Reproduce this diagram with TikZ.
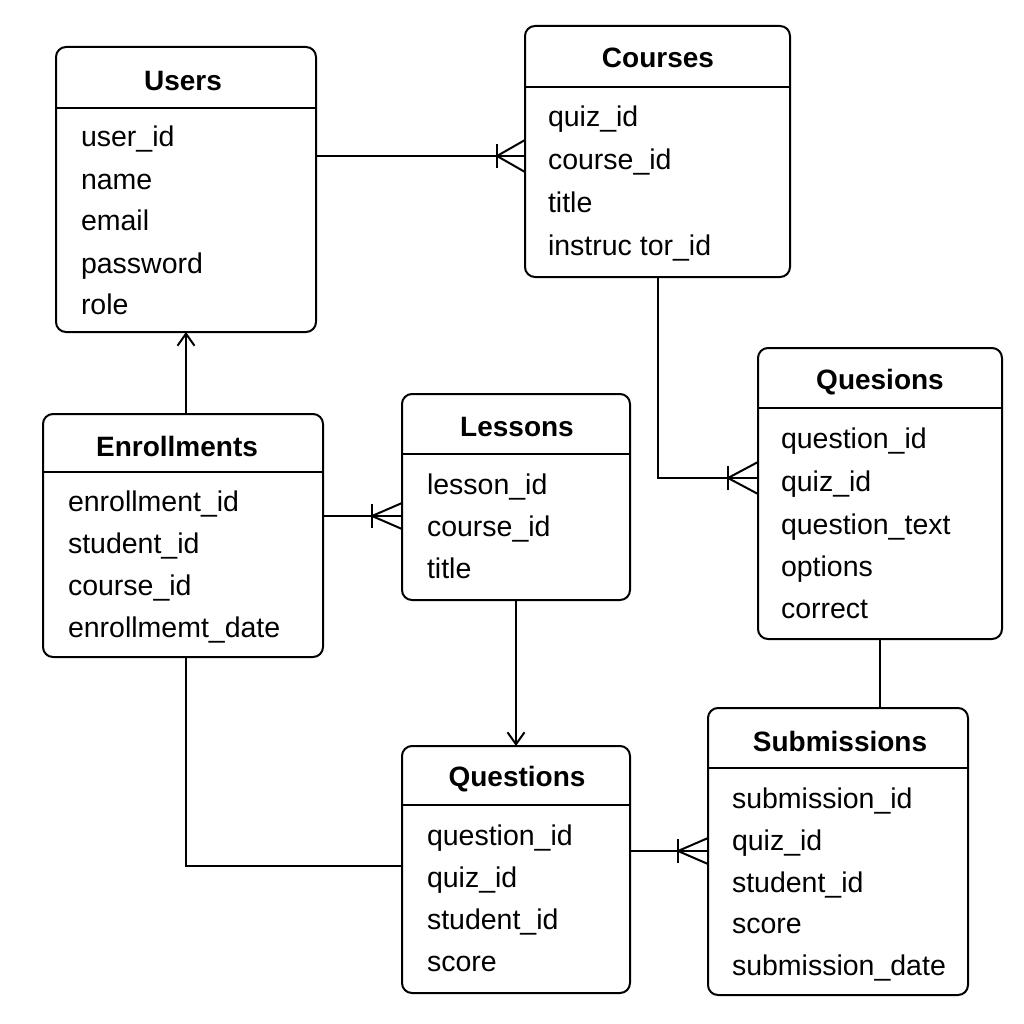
\documentclass[tikz,border=0pt]{standalone}
\usepackage{fontspec}
\setmainfont{Liberation Sans}
\usetikzlibrary{arrows.meta}
\begin{document}
\begin{tikzpicture}[x=1pt,y=-1pt, line width=2pt,
 ent/.style={draw, rounded corners=10pt, anchor=north west, inner sep=0pt, outer sep=0pt},
 ttl/.style={font=\fontsize{28}{30}\selectfont\bfseries, inner sep=0pt},
 fld/.style={font=\fontsize{28.5}{30}\selectfont, anchor=west, inner sep=0pt, text height=20pt, text depth=6pt, yshift=-3pt},
 arr/.style={-{Straight Barb[length=12pt,width=17pt,line width=2pt]}}
 ]
\useasboundingbox (0,0) rectangle (1024,1024);

% Users
\node[ent, minimum width=260pt, minimum height=285pt] (users) at (56,47) {};
\draw (users.west |- 0,108) -- (users.east |- 0,108);
\node[ttl] (usersT) at (183,81) {Users};
\node[fld] (u1) at (80,137) {user\_id};
\node[fld] (u2) at (80,180) {name};
\node[fld] (u3) at (80,221) {email};
\node[fld] (u4) at (80,263) {password};
\node[fld] (u5) at (80,304) {role};

% Courses
\node[ent, minimum width=265pt, minimum height=251pt] (courses) at (525,26) {};
\draw (courses.west |- 0,87) -- (courses.east |- 0,87);
\node[ttl] (coursesT) at (658,58) {Courses};
\node[fld] (c1) at (547,117) {quiz\_id};
\node[fld] (c2) at (547,160) {course\_id};
\node[fld] (c3) at (547,203) {title};
\node[fld] (c4) at (547,245) {instruc tor\_id};

% Quesions
\node[ent, minimum width=244pt, minimum height=291pt] (quesions) at (758,348) {};
\draw (quesions.west |- 0,408) -- (quesions.east |- 0,408);
\node[ttl] (quesionsT) at (880,382) {Quesions};
\node[fld] (q1) at (780,438) {question\_id};
\node[fld] (q2) at (780,481) {quiz\_id};
\node[fld] (q3) at (780,524) {question\_text};
\node[fld] (q4) at (780,566) {options};
\node[fld] (q5) at (780,608) {correct};

% Enrollments
\node[ent, minimum width=280pt, minimum height=243pt] (enroll) at (43,414) {};
\draw (enroll.west |- 0,472) -- (enroll.east |- 0,472);
\node[ttl] (enrollT) at (177,446) {Enrollments};
\node[fld] (e1) at (67,501) {enrollment\_id};
\node[fld] (e2) at (67,543) {student\_id};
\node[fld] (e3) at (67,585) {course\_id};
\node[fld] (e4) at (67,627) {enrollmemt\_date};

% Lessons
\node[ent, minimum width=228pt, minimum height=206pt] (lessons) at (402,394) {};
\draw (lessons.west |- 0,454) -- (lessons.east |- 0,454);
\node[ttl] (lessonsT) at (517,427) {Lessons};
\node[fld] (l1) at (426,484) {lesson\_id};
\node[fld] (l2) at (426,526) {course\_id};
\node[fld] (l3) at (426,568) {title};

% Questions
\node[ent, minimum width=228pt, minimum height=247pt] (questions) at (402,746) {};
\draw (questions.west |- 0,805) -- (questions.east |- 0,805);
\node[ttl] (questionsT) at (517,779) {Questions};
\node[fld] (s1) at (426,835) {question\_id};
\node[fld] (s2) at (426,877) {quiz\_id};
\node[fld] (s3) at (426,919) {student\_id};
\node[fld] (s4) at (426,961) {score};

% Submissions
\node[ent, minimum width=260pt, minimum height=287pt] (subm) at (708,708) {};
\draw (subm.west |- 0,768) -- (subm.east |- 0,768);
\node[ttl] (submT) at (840,741) {Submissions};
\node[fld] (b1) at (731,798) {submission\_id};
\node[fld] (b2) at (731,840) {quiz\_id};
\node[fld] (b3) at (731,882) {student\_id};
\node[fld] (b4) at (731,923) {score};
\node[fld] (b5) at (731,965) {submission\_date};

% connectors
\coordinate (k1) at (courses.west |- 0,156);
\draw (users.east |- 0,156) -- (k1);
\draw (k1) ++(-28,-12) -- ++(0,24);
\draw (k1) ++(0,-16) -- ++(-28,16) -- ++(28,16);

\coordinate (k2) at (quesions.west |- 0,478);
\draw (courses.south) |- (k2);
\draw (k2) ++(-30,-12) -- ++(0,24);
\draw (k2) ++(0,-16) -- ++(-30,16) -- ++(30,16);

\draw[arr] (users.south |- enroll.north) -- (users.south);

\coordinate (k3) at (lessons.west |- 0,516);
\draw (enroll.east |- 0,516) -- (k3);
\draw (k3) ++(-30,-12) -- ++(0,24);
\draw (k3) ++(0,-13) -- ++(-30,13) -- ++(30,13);

\draw[arr] (lessons.south) -- (questions.north);

\draw (users.south |- enroll.south) |- (questions.west |- 0,866);

\draw (quesions.south) -- (quesions.south |- subm.north);

\coordinate (k4) at (subm.west |- 0,851);
\draw (questions.east |- 0,851) -- (k4);
\draw (k4) ++(-30,-12) -- ++(0,24);
\draw (k4) ++(0,-13) -- ++(-30,13) -- ++(30,13);
\end{tikzpicture}
\end{document}
